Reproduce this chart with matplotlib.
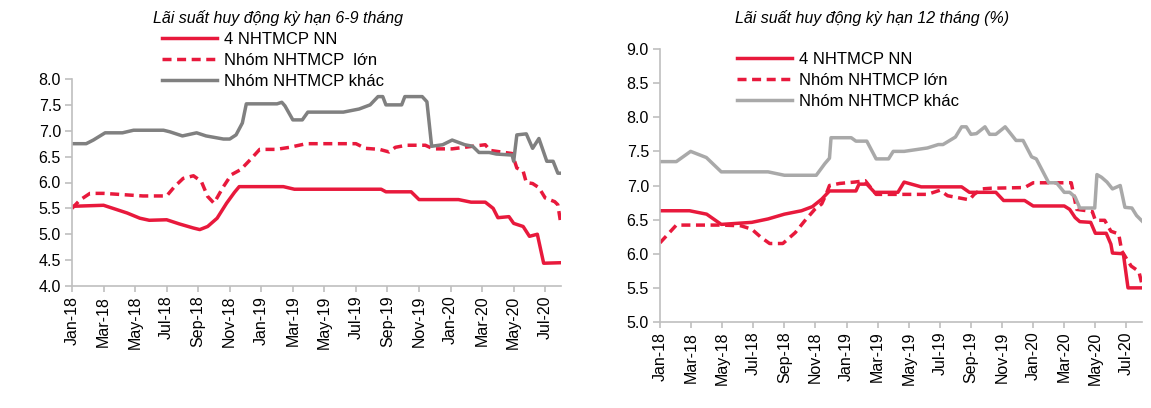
import matplotlib
matplotlib.use("Agg")
import matplotlib.pyplot as plt

plt.rcParams['font.family'] = ['Liberation Sans', 'DejaVu Sans']

# ---------------- data ----------------
tick_labels = ['Jan-18', 'Mar-18', 'May-18', 'Jul-18', 'Sep-18', 'Nov-18', 'Jan-19', 'Mar-19',
               'May-19', 'Jul-19', 'Sep-19', 'Nov-19', 'Jan-20', 'Mar-20', 'May-20', 'Jul-20']
tick_months = [0, 2, 4, 6, 8, 10, 12, 14, 16, 18, 20, 22, 24, 26, 28, 30]
series_names = ['4 NHTMCP NN', 'Nhóm NHTMCP  lớn', 'Nhóm NHTMCP khác']
series_names_r = ['4 NHTMCP NN', 'Nhóm NHTMCP lớn', 'Nhóm NHTMCP khác']
title_left = 'Lãi suất huy động kỳ hạn 6-9 tháng'
title_right = 'Lãi suất huy động kỳ hạn 12 tháng (%)'

# Left chart (6-9 months): month offset from Jan-2018, rate
l_nn_m = [0, 2, 2.6, 3.5, 4.3, 4.9, 6.0, 6.8, 7.7, 8.1, 8.6, 9.2, 9.8, 10.3, 10.6, 13.4, 14.1,
          19.6, 19.9, 21.5, 22.0, 24.5, 25.3, 26.2, 26.7, 27.0, 27.7, 28.0, 28.6, 29.0, 29.5,
          29.9, 31]
l_nn_v = [5.54, 5.56, 5.50, 5.41, 5.31, 5.27, 5.28, 5.20, 5.12, 5.09, 5.15, 5.31, 5.60, 5.81,
          5.92, 5.92, 5.87, 5.87, 5.82, 5.82, 5.67, 5.67, 5.62, 5.62, 5.50, 5.32, 5.34, 5.21,
          5.15, 4.96, 5.00, 4.44, 4.45]

l_big_m = [0, 0.5, 1.14, 2, 3.5, 4.5, 6.0, 6.5, 7.05, 7.7, 8.2, 8.6, 9.0, 9.6, 10.1, 10.7, 11.3,
           11.9, 12.95, 13.8, 14.85, 18.0, 18.6, 19.5, 20.1, 20.5, 21.2, 22.4, 22.9, 24.1,
           25.4, 26.2, 26.5, 27.9, 28.2, 28.6, 28.8, 29.2, 29.6, 30.0, 30.6, 30.8, 31]
l_big_v = [5.50, 5.66, 5.79, 5.79, 5.76, 5.74, 5.74, 5.92, 6.08, 6.13, 6.02, 5.73, 5.60, 5.92,
           6.15, 6.25, 6.44, 6.64, 6.64, 6.68, 6.75, 6.75, 6.66, 6.64, 6.59, 6.68, 6.72, 6.72,
           6.65, 6.65, 6.70, 6.73, 6.62, 6.56, 6.28, 6.22, 6.00, 5.98, 5.90, 5.70, 5.63, 5.57,
           5.18]

l_oth_m = [0, 0.9, 1.35, 2.1, 3.2, 3.9, 5.8, 6.2, 7.0, 7.9, 8.5, 9.6, 10.0, 10.4, 10.8, 11.05,
           13.0, 13.3, 13.5, 14.0, 14.6, 14.95, 17.2, 18.2, 18.9, 19.4, 19.7, 19.9, 20.9, 21.1,
           22.2, 22.5, 22.8, 23.5, 24.1, 24.9, 25.4, 25.8, 26.45, 26.9, 27.9, 28.0, 28.2, 28.8,
           29.2, 29.6, 30.1, 30.5, 30.8, 31]
l_oth_v = [6.75, 6.75, 6.82, 6.96, 6.96, 7.01, 7.01, 6.98, 6.90, 6.96, 6.90, 6.84, 6.84, 6.92,
           7.15, 7.52, 7.52, 7.55, 7.48, 7.21, 7.21, 7.36, 7.36, 7.42, 7.50, 7.66, 7.66, 7.50,
           7.50, 7.66, 7.66, 7.56, 6.70, 6.73, 6.82, 6.73, 6.70, 6.58, 6.58, 6.55, 6.53, 6.41,
           6.92, 6.94, 6.66, 6.85, 6.41, 6.41, 6.18, 6.18]

# Right chart (12 months)
r_nn_m = [0, 1.9, 3.0, 3.94, 5.9, 6.95, 8.0, 9.1, 9.8, 10.4, 10.9, 12.6, 12.8, 13.3, 13.8, 15.3,
          15.7, 16.8, 19.4, 19.9, 21.6, 22.1, 23.45, 24.0, 26.0, 26.35, 26.7, 27.0, 27.7, 28.0,
          28.7, 29.0, 29.1, 29.8, 30.1, 31]
r_nn_v = [6.63, 6.63, 6.58, 6.43, 6.46, 6.51, 6.58, 6.63, 6.69, 6.80, 6.92, 6.92, 7.02, 7.02,
          6.90, 6.90, 7.05, 6.98, 6.98, 6.90, 6.90, 6.78, 6.78, 6.70, 6.70, 6.65, 6.53, 6.47,
          6.46, 6.30, 6.30, 6.14, 6.01, 6.00, 5.50, 5.50]

r_big_m = [0, 1.05, 3.94, 5.2, 5.9, 6.5, 7.05, 7.9, 8.7, 9.3, 9.95, 10.4, 10.7, 10.9, 11.55, 12.5,
           13.2, 13.9, 17.2, 18.0, 18.5, 19.9, 20.2, 20.7, 21.3, 23.45, 24.0, 26.45, 26.8, 27.8,
           28.0, 28.6, 29.0, 29.5, 29.7, 30.3, 30.8, 31]
r_big_v = [6.16, 6.42, 6.42, 6.41, 6.36, 6.24, 6.15, 6.15, 6.31, 6.48, 6.65, 6.73, 6.88, 7.00,
           7.03, 7.05, 7.07, 6.87, 6.87, 6.93, 6.85, 6.79, 6.87, 6.95, 6.96, 6.97, 7.04, 7.04,
           6.65, 6.62, 6.49, 6.49, 6.33, 6.29, 6.04, 5.82, 5.74, 5.55]

r_oth_m = [0, 1.05, 1.97, 2.98, 3.94, 6.95, 8.0, 10.05, 10.6, 10.9, 11.0, 12.3, 12.6, 13.3, 13.9,
           14.7, 15.0, 15.7, 17.2, 17.9, 18.2, 19.0, 19.4, 19.7, 20.0, 20.35, 20.9, 21.2, 21.6,
           22.2, 22.9, 23.35, 23.9, 24.2, 25.0, 25.5, 26.0, 26.35, 26.7, 27.0, 27.96, 28.1,
           28.4, 28.75, 29.1, 29.6, 29.9, 30.35, 30.65, 31]
r_oth_v = [7.35, 7.35, 7.50, 7.41, 7.20, 7.20, 7.15, 7.15, 7.32, 7.40, 7.70, 7.70, 7.65, 7.65,
           7.39, 7.39, 7.50, 7.50, 7.55, 7.60, 7.60, 7.71, 7.86, 7.86, 7.75, 7.76, 7.86, 7.75,
           7.75, 7.86, 7.66, 7.66, 7.42, 7.39, 7.04, 7.04, 6.90, 6.90, 6.83, 6.67, 6.67, 7.16,
           7.12, 7.05, 6.95, 7.00, 6.68, 6.67, 6.56, 6.48]

# ---------------- style ----------------
RED = '#E8193C'
GRAY_L = '#808080'
GRAY_R = '#A9A9A9'
AXC = '#BFBFBF'
W, H = 1151, 408

fig = plt.figure(figsize=(W / 100, H / 100), dpi=100)


def px_axes(x0, x1, ytop, ybot):
    return fig.add_axes([x0 / W, 1 - ybot / H, (x1 - x0) / W, (ybot - ytop) / H])


def style(ax, ymin, ymax, yticks):
    ax.set_xlim(0, 31)
    ax.set_ylim(ymin, ymax)
    ax.set_yticks(yticks)
    ax.set_yticklabels([f'{t:.1f}' for t in yticks])
    ax.set_xticks(tick_months)
    ax.set_xticklabels(tick_labels, rotation=90)
    for s in ['top', 'right']:
        ax.spines[s].set_visible(False)
    for s in ['left', 'bottom']:
        ax.spines[s].set_color(AXC)
        ax.spines[s].set_linewidth(1.2)
    ax.tick_params(axis='y', colors=AXC, labelcolor='black', length=5, width=1.2,
                   labelsize=11.5, pad=3)
    ax.tick_params(axis='x', colors=AXC, labelcolor='black', length=4, width=1.2,
                   labelsize=11.5, pad=3)
    ax.patch.set_alpha(0)


lw = 2.5
dash = (0, (2.6, 1.6))

axL = px_axes(72, 561, 79, 286)
h1, = axL.plot(l_nn_m, l_nn_v, color=RED, lw=lw, solid_joinstyle='round')
h2, = axL.plot(l_big_m, l_big_v, color=RED, lw=lw, linestyle=dash)
h3, = axL.plot(l_oth_m, l_oth_v, color=GRAY_L, lw=lw, solid_joinstyle='round')
style(axL, 4.0, 8.0, [4.0, 4.5, 5.0, 5.5, 6.0, 6.5, 7.0, 7.5, 8.0])

axR = px_axes(660, 1142, 49, 322)
g1, = axR.plot(r_nn_m, r_nn_v, color=RED, lw=lw, solid_joinstyle='round')
g2, = axR.plot(r_big_m, r_big_v, color=RED, lw=lw, linestyle=dash)
g3, = axR.plot(r_oth_m, r_oth_v, color=GRAY_R, lw=lw, solid_joinstyle='round')
style(axR, 5.0, 9.0, [5.0, 5.5, 6.0, 6.5, 7.0, 7.5, 8.0, 8.5, 9.0])

fig.text(278 / W, 1 - 18 / H, title_left, ha='center', va='center', fontsize=11.5,
         style='italic')
fig.text(872 / W, 1 - 18 / H, title_right, ha='center', va='center', fontsize=11.5,
         style='italic')

leg_kw = dict(loc='upper left', frameon=False, fontsize=12, handlelength=3.3,
              handletextpad=0.4, labelspacing=0.35, borderpad=0, borderaxespad=0)
fig.legend([h1, h2, h3], series_names, bbox_to_anchor=(162 / W, 1 - 32 / H), **leg_kw)
fig.legend([g1, g2, g3], series_names_r, bbox_to_anchor=(737 / W, 1 - 52 / H), **leg_kw)

fig.savefig('out.png', dpi=100)
